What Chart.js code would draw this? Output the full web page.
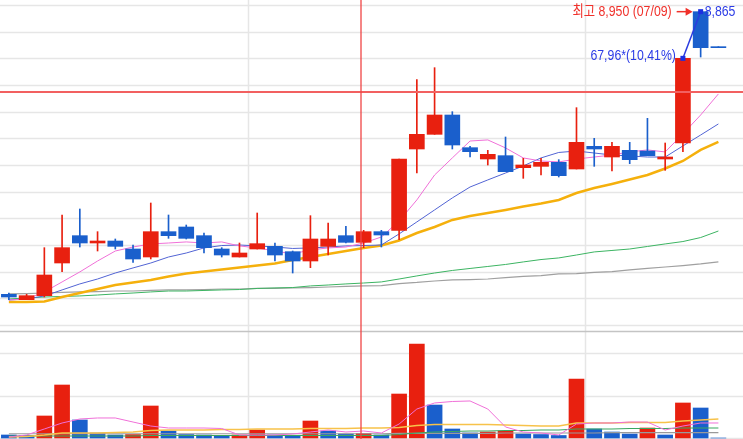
<!DOCTYPE html>
<html>
<head>
<meta charset="utf-8">
<script src="https://cdn.jsdelivr.net/npm/chart.js@4.4.1/dist/chart.umd.min.js"></script>
<style>
  html, body { margin: 0; padding: 0; overflow: hidden; background: #fff; }
  #wrap { width: 745px; height: 439px; }
</style>
</head>
<body>
<div id="wrap"><canvas id="chart" width="745" height="439"></canvas></div>
<script>
// trading days (last one is the empty next-day slot)
const dates = ['05/15','05/18','05/19','05/20','05/21','05/22','05/25','05/26','05/27','05/28','05/29',
  '06/01','06/02','06/03','06/04','06/05','06/08','06/09','06/10','06/11','06/12',
  '06/15','06/16','06/17','06/18','06/19','06/22','06/23','06/24','06/25','06/26',
  '06/29','06/30','07/01','07/02','07/03','07/06','07/07','07/08','07/09','07/10'];

const openP  = [6330, 6290, 6320, 6565, 6770, 6715, 6730, 6670, 6610, 6800, 6835, 6770, 6670, 6610, 6670, 6690, 6650, 6580, 6690, 6770, 6720, 6800, 6810, 7420, 7530, 7675, 7430, 7345, 7370, 7280, 7290, 7320, 7270, 7440, 7360, 7410, 7405, 7345, 7465, 8450, 8180];
const highP  = [6340, 6330, 6680, 6925, 6970, 6800, 6745, 6700, 7015, 6925, 6850, 6790, 6680, 6715, 6940, 6715, 6655, 6920, 6865, 6840, 6810, 6810, 7345, 7940, 8030, 7700, 7440, 7410, 7510, 7350, 7350, 7340, 7730, 7500, 7470, 7470, 7650, 7465, 8100, 8450, 8180];
const lowP   = [6290, 6290, 6310, 6500, 6685, 6655, 6670, 6570, 6595, 6750, 6745, 6640, 6610, 6610, 6670, 6580, 6490, 6530, 6625, 6715, 6680, 6685, 6740, 7240, 7530, 7420, 7360, 7300, 7250, 7200, 7225, 7210, 7270, 7290, 7255, 7310, 7370, 7260, 7400, 8110, 8180];
const closeP = [6310, 6320, 6475, 6680, 6715, 6730, 6690, 6595, 6800, 6770, 6750, 6680, 6625, 6640, 6710, 6625, 6580, 6745, 6745, 6720, 6800, 6775, 7345, 7530, 7675, 7450, 7400, 7380, 7250, 7300, 7320, 7220, 7470, 7420, 7440, 7340, 7370, 7360, 8100, 8180, 8180];

// price moving averages
const ma5   = [6288, 6295, 6348, 6423, 6498, 6580, 6655, 6685, 6708, 6715, 6723, 6715, 6723, 6693, 6678, 6655, 6633, 6663, 6678, 6685, 6715, 6760, 6880, 7038, 7225, 7353, 7480, 7488, 7428, 7353, 7330, 7323, 7345, 7360, 7375, 7398, 7413, 7398, 7533, 7675, 7833];
const ma10  = [6288, 6295, 6318, 6363, 6408, 6445, 6490, 6528, 6565, 6610, 6640, 6678, 6696, 6700, 6693, 6685, 6674, 6678, 6685, 6693, 6696, 6700, 6783, 6873, 6963, 7053, 7135, 7188, 7240, 7293, 7353, 7394, 7405, 7390, 7375, 7368, 7360, 7360, 7443, 7525, 7608];
const ma20  = [6273, 6273, 6276, 6310, 6340, 6370, 6400, 6419, 6438, 6464, 6486, 6501, 6516, 6531, 6546, 6561, 6588, 6610, 6633, 6655, 6678, 6696, 6734, 6790, 6835, 6888, 6918, 6940, 6963, 6989, 7011, 7038, 7090, 7128, 7158, 7191, 7225, 7274, 7330, 7413, 7473];
const ma60  = [6295, 6303, 6310, 6314, 6318, 6325, 6333, 6340, 6348, 6355, 6355, 6359, 6363, 6366, 6374, 6378, 6381, 6393, 6400, 6408, 6415, 6423, 6445, 6468, 6490, 6509, 6524, 6539, 6554, 6573, 6591, 6603, 6625, 6648, 6659, 6670, 6689, 6708, 6726, 6756, 6805];
const ma120 = [6333, 6336, 6340, 6344, 6348, 6351, 6355, 6355, 6359, 6363, 6363, 6366, 6370, 6370, 6374, 6374, 6378, 6381, 6385, 6389, 6393, 6396, 6411, 6419, 6430, 6438, 6441, 6445, 6456, 6464, 6471, 6483, 6486, 6494, 6501, 6513, 6524, 6535, 6546, 6558, 6573];

// volume + volume averages
const volume = [71000, 59000, 518000, 1247000, 424000, 118000, 71000, 82000, 753000, 165000, 82000, 71000, 59000, 71000, 188000, 71000, 59000, 400000, 165000, 94000, 106000, 71000, 1035000, 2212000, 776000, 212000, 118000, 141000, 165000, 94000, 82000, 59000, 1388000, 212000, 141000, 94000, 235000, 71000, 824000, 706000, 0];
const volMa5   = [24000, 71000, 212000, 353000, 447000, 471000, 471000, 376000, 282000, 235000, 235000, 235000, 224000, 71000, 71000, 71000, 94000, 141000, 188000, 141000, 165000, 118000, 329000, 682000, 824000, 859000, 871000, 682000, 259000, 141000, 118000, 71000, 329000, 353000, 353000, 376000, 376000, 188000, 282000, 353000, 353000];
const volMa20  = [24000, 35000, 71000, 118000, 118000, 118000, 129000, 141000, 176000, 188000, 188000, 188000, 200000, 200000, 212000, 212000, 212000, 224000, 224000, 224000, 235000, 235000, 247000, 294000, 318000, 318000, 318000, 318000, 306000, 294000, 282000, 282000, 353000, 353000, 353000, 365000, 365000, 365000, 400000, 424000, 447000];
const volMa60  = [47000, 47000, 47000, 47000, 47000, 47000, 47000, 47000, 59000, 59000, 59000, 59000, 59000, 59000, 59000, 59000, 59000, 59000, 59000, 59000, 59000, 59000, 82000, 118000, 141000, 153000, 165000, 165000, 176000, 176000, 188000, 188000, 212000, 212000, 212000, 224000, 224000, 224000, 235000, 235000, 235000];
const volMa120 = [100000, 100000, 100000, 100000, 100000, 100000, 100000, 100000, 100000, 100000, 100000, 100000, 100000, 100000, 100000, 100000, 100000, 100000, 100000, 100000, 100000, 100000, 110000, 110000, 110000, 110000, 110000, 110000, 118000, 118000, 118000, 118000, 118000, 118000, 125000, 125000, 125000, 125000, 125000, 125000, 125000];

// grid values
const priceGrid = [6100, 6300, 6500, 6700, 6900, 7100, 7300, 7500, 7700, 7900, 8100, 8300, 8500];
const volGrid = [0, 1000000, 2000000];
const volPanelTop = 2520000;
const dividers = [13.5, 32.5];
const crossIndex = 19.83;
const crossPrice = 7847;

const changeLabel = '67,96*(10,41%)';
const highLabel = '최고 8,950 (07/09)';
const lastLabel = '8,865';

const UP = '#e8200f';
const DOWN = '#1a5fcc';

const candleColor = closeP.map((c, i) => c > openP[i] ? UP : DOWN);
const volColor = volume.map((v, i) => i > 0 && v > volume[i - 1] ? UP : DOWN);

const xy = arr => arr.map((v, i) => ({ x: i, y: v }));

function lineSet(label, data, color, width, axis, order) {
  return {
    type: 'line', label, data: xy(data), yAxisID: axis, order,
    borderColor: color, borderWidth: width, pointRadius: 0, tension: 0
  };
}

function hline(ctx, x1, x2, y) { ctx.beginPath(); ctx.moveTo(x1, y); ctx.lineTo(x2, y); ctx.stroke(); }
function vline(ctx, x, y1, y2) { ctx.beginPath(); ctx.moveTo(x, y1); ctx.lineTo(x, y2); ctx.stroke(); }

// the HTS label font is narrow, so squeeze the text horizontally
function narrowText(ctx, text, x, y, align) {
  ctx.save();
  ctx.translate(x, y);
  ctx.scale(0.82, 1);
  ctx.textAlign = align;
  ctx.fillText(text, 0, 0);
  ctx.restore();
}

const chartDecor = {
  id: 'chartDecor',
  beforeDatasetsDraw(chart) {
    const { ctx, chartArea: a, scales: { x, y, yv } } = chart;
    ctx.save();
    ctx.lineWidth = 1.5;
    ctx.strokeStyle = '#e6e6e6';
    priceGrid.forEach(v => hline(ctx, a.left, a.right, Math.round(y.getPixelForValue(v)) + 0.5));
    volGrid.forEach(v => hline(ctx, a.left, a.right, Math.round(yv.getPixelForValue(v)) + 0.5));
    dividers.forEach(d => vline(ctx, Math.round(x.getPixelForValue(d)) + 0.5, a.top, a.bottom));
    ctx.strokeStyle = '#c4c4c4';
    hline(ctx, a.left, a.right, Math.round(yv.getPixelForValue(volPanelTop)) + 0.5);
    ctx.restore();
  },
  afterDatasetsDraw(chart) {
    const { ctx, chartArea: a, scales: { x, y } } = chart;
    ctx.save();
    // crosshair
    ctx.strokeStyle = '#f26060';
    ctx.lineWidth = 1.8;
    hline(ctx, a.left, a.right, Math.round(y.getPixelForValue(crossPrice)));
    ctx.strokeStyle = '#f04545';
    ctx.lineWidth = 1.3;
    vline(ctx, Math.round(x.getPixelForValue(crossIndex)), a.top, a.bottom);

    const x38 = x.getPixelForValue(38), y38 = y.getPixelForValue(closeP[38]);
    const x39 = x.getPixelForValue(39), y39 = y.getPixelForValue(openP[39]);

    ctx.strokeStyle = '#2a3be0';
    ctx.lineWidth = 1.5;
    ctx.beginPath(); ctx.moveTo(x38, y38); ctx.lineTo(x39, y39); ctx.stroke();
    ctx.fillStyle = '#1c2fe0';
    ctx.fillRect(x38 - 2.5, y38 - 2.5, 5, 5);
    ctx.fillRect(x39 - 2.5, y39 - 2.5, 5, 5);

    ctx.font = '15px "Liberation Sans", "Noto Sans CJK KR", sans-serif';
    ctx.textBaseline = 'middle';
    ctx.fillStyle = '#2b3be6';
    narrowText(ctx, changeLabel, x38 - 7, y38 - 2, 'right');
    narrowText(ctx, lastLabel, x39 + 4, y39, 'left');

    ctx.fillStyle = '#f0302a';
    ctx.strokeStyle = '#f0302a';
    narrowText(ctx, highLabel, x39 - 29, y39, 'right');
    ctx.lineWidth = 1.5;
    hline(ctx, x39 - 24, x39 - 14, y39);
    ctx.beginPath();
    ctx.moveTo(x39 - 8, y39); ctx.lineTo(x39 - 15, y39 - 4); ctx.lineTo(x39 - 15, y39 + 4);
    ctx.closePath(); ctx.fill();
    ctx.restore();
  }
};

new Chart(document.getElementById('chart'), {
  type: 'bar',
  data: {
    datasets: [
      {
        label: 'body', order: 0, yAxisID: 'y', grouped: false,
        data: openP.map((o, i) => ({ x: i, y: [o, closeP[i]] })),
        backgroundColor: candleColor, barThickness: 15, minBarLength: 1
      },
      {
        label: 'wick', order: 1, yAxisID: 'y', grouped: false,
        data: lowP.map((l, i) => ({ x: i, y: [l, highP[i]] })),
        backgroundColor: candleColor, barThickness: 1, minBarLength: 1
      },
      lineSet('MA5', ma5, '#f070d8', 1, 'y', 2),
      lineSet('MA10', ma10, '#5264d4', 1, 'y', 3),
      lineSet('MA20', ma20, '#f5b00c', 2.5, 'y', 4),
      lineSet('MA60', ma60, '#3cb462', 1, 'y', 5),
      lineSet('MA120', ma120, '#a0a0a0', 1.2, 'y', 6),
      lineSet('VMA5', volMa5, '#f070d8', 1, 'yv', 7),
      lineSet('VMA20', volMa20, '#f7c24a', 1.5, 'yv', 8),
      lineSet('VMA60', volMa60, '#3aa860', 1.2, 'yv', 9),
      lineSet('VMA120', volMa120, '#9a9a9a', 1.2, 'yv', 10),
      {
        label: 'volume', order: 11, yAxisID: 'yv', grouped: false,
        data: xy(volume),
        backgroundColor: volColor, barThickness: 15
      }
    ]
  },
  options: {
    responsive: false,
    animation: false,
    devicePixelRatio: 1,
    layout: { padding: 0 },
    plugins: {
      legend: { display: false },
      tooltip: { callbacks: { title: items => dates[items[0].parsed.x] } }
    },
    scales: {
      x: { type: 'linear', min: -0.5, max: 41.5, offset: false, display: false },
      y: { min: 5245, max: 8537.5, display: false },
      yv: { min: -23500, max: 10306000, display: false }
    }
  },
  plugins: [chartDecor]
});
</script>
</body>
</html>
